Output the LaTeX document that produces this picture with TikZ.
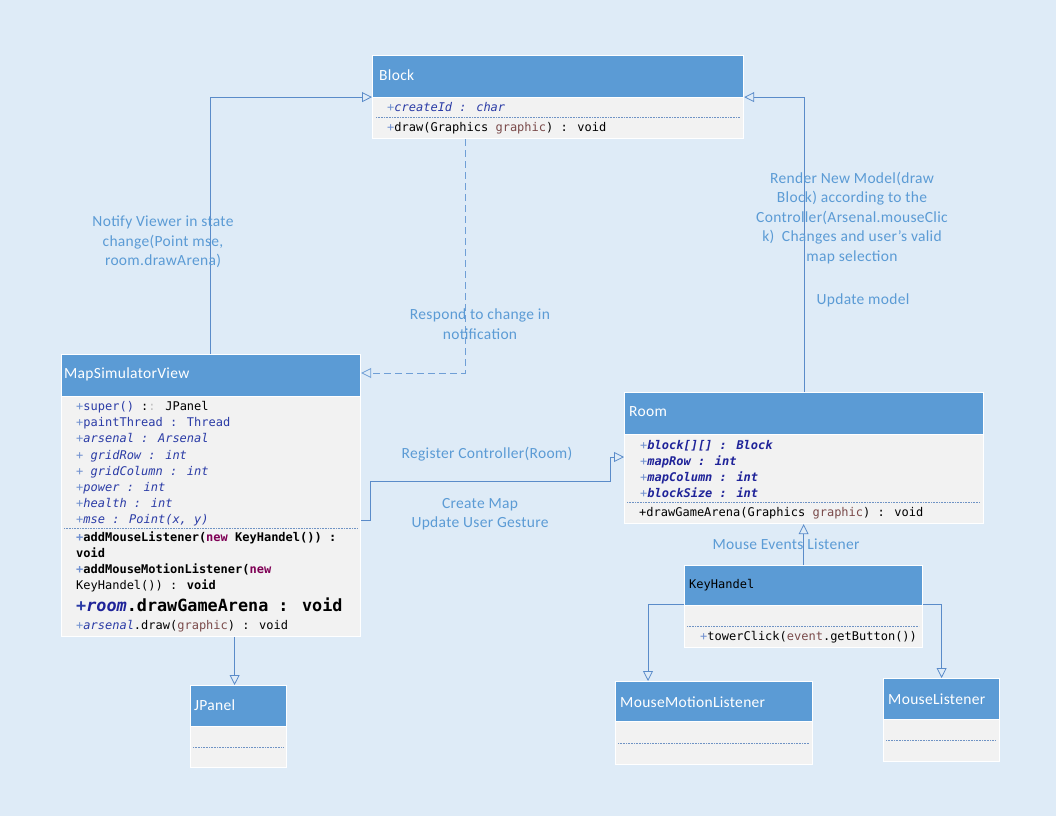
\documentclass[tikz,border=0pt]{standalone}
\usepackage{fontspec}
\setmainfont{Carlito}
\newfontfamily\codefont{DejaVu Sans Mono}
\usetikzlibrary{arrows.meta,calc}

\definecolor{bgcol}{HTML}{DEEBF7}
\definecolor{headcol}{HTML}{5B9BD5}
\definecolor{bodycol}{HTML}{F2F2F2}
\definecolor{linecol}{HTML}{5A8BC9}
\definecolor{dashcol}{HTML}{6F9FD6}
\definecolor{labelcol}{HTML}{5B9BD5}
\definecolor{pluscol}{HTML}{6F8FCF}
\definecolor{attrcol}{HTML}{2A3BA6}
\definecolor{attrbcol}{HTML}{1F2399}
\definecolor{kwcol}{HTML}{7F0055}
\definecolor{parcol}{HTML}{7A4A4A}
\definecolor{sepcol}{HTML}{6F93C4}

% code text helpers
\newcommand\pl{\textcolor{pluscol}{+}}
\newcommand\attr[1]{\textcolor{attrcol}{\itshape #1}}
\newcommand\attrb[1]{\textcolor{attrbcol}{\bfseries\itshape #1}}
\newcommand\kw[1]{\textcolor{kwcol}{#1}}
\newcommand\prm[1]{\textcolor{parcol}{#1}}

\tikzset{
  classbox/.style={draw=white, line width=1.2pt, fill=bodycol, anchor=north west, inner sep=0pt},
  classhead/.style={draw=white, line width=1.2pt, fill=headcol, anchor=north west, inner sep=0pt},
  title/.style={anchor=west, text=white, font=\fontsize{15.5}{17}\selectfont\addfontfeatures{LetterSpace=2}, inner sep=0pt},
  code/.style={anchor=base west, inner sep=0pt, font=\codefont\fontsize{12}{14}\selectfont},
  sep/.style={draw=sepcol, line width=0.6pt, densely dotted},
  conn/.style={draw=linecol, line width=0.8pt, -{Triangle[length=10pt, width=10pt, fill=bgcol, line width=0.8pt]}},
  lbl/.style={text=labelcol, align=center, inner sep=0pt, font=\fontsize{15.5}{19.5}\selectfont\addfontfeatures{LetterSpace=2}},
}

\begin{document}
\begin{tikzpicture}[x=1pt, y=-1pt]
\useasboundingbox (0,0) rectangle (1056,816);
\fill[bgcol] (0,0) rectangle (1056,816);

% ---------- Block ----------
\node[classbox, minimum width=371, minimum height=83] (block) at (372,55) {};
\node[classhead, minimum width=371, minimum height=42] (blockh) at (372,55) {};
\node[title] (blockt) at (379,75) {Block};
\node[code] (b1) at (387,111) {\pl\attr{createId : char}};
\draw[sep] (376,117) -- (740,117);
\node[code] (b2) at (387,131) {\pl draw(Graphics \prm{graphic}) : void};

% ---------- MapSimulatorView ----------
\node[classbox, minimum width=299, minimum height=282] (msv) at (61,354) {};
\node[classhead, minimum width=299, minimum height=42] (msvh) at (61,354) {};
\node[title] (msvt) at (64,374) {MapSimulatorView};
\node[code] (m1) at (76,410) {\pl\textcolor{attrcol}{super()} :\textcolor{gray!50}{:} JPanel};
\node[code] (m2) at (76,426) {\pl\textcolor{attrcol}{paintThread : Thread}};
\node[code] (m3) at (76,442) {\pl\attr{arsenal : Arsenal}};
\node[code] (m4) at (76,459) {\pl\attr{ gridRow : int}};
\node[code] (m5) at (76,475) {\pl\attr{ gridColumn : int}};
\node[code] (m6) at (76,491) {\pl\attr{power : int}};
\node[code] (m7) at (76,507) {\pl\attr{health : int}};
\node[code] (m8) at (76,523) {\pl\attr{mse : Point(x, y)}};
\draw[sep] (64,528) -- (357,528);
\node[code] (m9) at (76,541) {\bfseries\pl addMouseListener(\kw{new} KeyHandel()) :};
\node[code] (m10) at (76,557) {\bfseries void};
\node[code] (m11) at (76,573) {\bfseries\pl addMouseMotionListener(\kw{new}};
\node[code] (m12) at (76,589) {KeyHandel()) : \textbf{void}};
\node[code, font=\codefont\bfseries\fontsize{16.8}{18}\selectfont] (m13) at (76,611)
  {\textcolor{attrcol}{+}\textcolor{attrbcol}{\itshape room}.drawGameArena : void};
\node[code] (m14) at (76,629) {\pl\attr{arsenal}.draw(\prm{graphic}) : void};

% ---------- Room ----------
\node[classbox, minimum width=359, minimum height=131] (room) at (624,392) {};
\node[classhead, minimum width=359, minimum height=42] (roomh) at (624,392) {};
\node[title] (roomt) at (629,412) {Room};
\node[code] (r1) at (640,449) {\pl\attrb{block[][] : Block}};
\node[code] (r2) at (640,465) {\pl\attrb{mapRow : int}};
\node[code] (r3) at (640,481) {\pl\attrb{mapColumn : int}};
\node[code] (r4) at (640,497) {\pl\attrb{blockSize : int}};
\draw[sep] (627,502) -- (980,502);
\node[code] (r5) at (639,516) {+drawGameArena(Graphics \prm{graphic}) : void};

% ---------- KeyHandel ----------
\node[classbox, minimum width=238, minimum height=82] (kh) at (684,565) {};
\node[classhead, minimum width=238, minimum height=40] (khh) at (684,565) {};
\node[code, anchor=west] (kht) at (689,585) {KeyHandel};
\draw[sep] (687,626) -- (919,626);
\node[code] (k1) at (700,640) {\pl towerClick(\prm{event}.getButton())};

% ---------- JPanel ----------
\node[classbox, minimum width=96, minimum height=82] (jp) at (190,685) {};
\node[classhead, minimum width=96, minimum height=41] (jph) at (190,685) {};
\node[title] (jpt) at (194,705) {JPanel};
\draw[sep] (193,747) -- (283,747);

% ---------- MouseMotionListener ----------
\node[classbox, minimum width=197, minimum height=83] (mml) at (615,681) {};
\node[classhead, minimum width=197, minimum height=40] (mmlh) at (615,681) {};
\node[title] (mmlt) at (620,702) {MouseMotionListener};
\draw[sep] (618,743) -- (809,743);

% ---------- MouseListener ----------
\node[classbox, minimum width=116, minimum height=83] (ml) at (883,678) {};
\node[classhead, minimum width=116, minimum height=41] (mlh) at (883,678) {};
\node[title] (mlt) at (888,699) {MouseListener};
\draw[sep] (886,740) -- (996,740);

% ---------- connectors ----------
\draw[conn] ([xshift=149pt]msv.north west) |- (block.west);
\draw[conn] (room.north) |- (block.east);
\draw[conn, draw=dashcol, dash pattern=on 7pt off 4pt] ([xshift=93pt]block.south west) |- ([yshift=-19pt]msv.north east);
\coordinate (regA) at (370,481);
\coordinate (regB) at (610,457);
\draw[conn] ([yshift=-166pt]msv.north east) -| (regA) -| (regB) -- ([yshift=-65pt]room.north west);
\draw[conn] (kh.north) -- (kh.north |- room.south);
\draw[conn] ([yshift=-39pt]kh.north west) -| ([xshift=33pt]mml.north west);
\draw[conn] ([yshift=-39pt]kh.north east) -| (ml.north);
\coordinate (jpin) at ([xshift=-4pt]jp.north);
\draw[conn] (msv.south -| jpin) -- (jpin);

% ---------- labels ----------
\node[lbl] (l1) at (163,242) {Notify Viewer in state\\change(Point mse,\\room.drawArena)};
\node[lbl] (l2) at (480,324) {Respond to change in\\notification};
\node[lbl] (l3) at (852,218) {Render New Model(draw\\Block) according to the\\Controller(Arsenal.mouseClic\\k)\ \ Changes and user’s valid\\map selection};
\node[lbl] (l4) at (863,300) {Update model};
\node[lbl] (l5) at (487,454) {Register Controller(Room)};
\node[lbl] (l6) at (480,514) {Create Map\\Update User Gesture};
\node[lbl] (l7) at (786,544) {Mouse Events Listener};
\end{tikzpicture}
\end{document}
